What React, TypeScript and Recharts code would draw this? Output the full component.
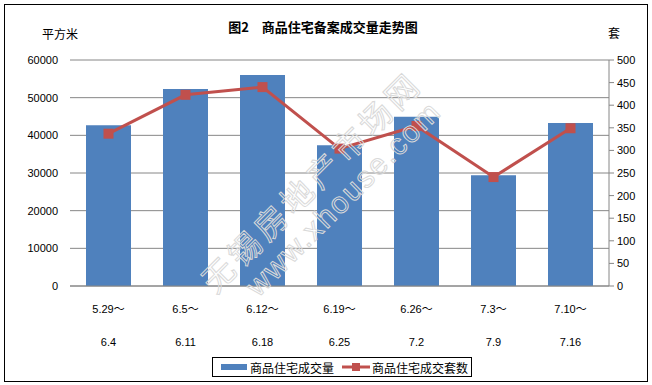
import {
  Bar,
  CartesianGrid,
  ComposedChart,
  Legend,
  Line,
  XAxis,
  YAxis,
} from "recharts";

const weekStart = ["5.29～", "6.5～", "6.12～", "6.19～", "6.26～", "7.3～", "7.10～"];
const weekEnd = ["6.4", "6.11", "6.18", "6.25", "7.2", "7.9", "7.16"];
const areaSold = [42700, 52300, 56000, 37400, 44950, 29400, 43300];
const unitsSold = [337, 423, 440, 304, 354, 241, 349];
const areaTicks = [0, 10000, 20000, 30000, 40000, 50000, 60000];
const unitTicks = [0, 50, 100, 150, 200, 250, 300, 350, 400, 450, 500];

const BLUE = "#4F81BD";
const RED = "#C0504D";
const GRID = "#868686";
const NUM_FONT = "'Liberation Sans', 'Noto Sans CJK SC', sans-serif";
const CJK_FONT = "'Noto Sans CJK SC', sans-serif";

const chartData = weekStart.map((start, i) => ({
  start,
  area: areaSold[i],
  units: unitsSold[i],
}));

function WeekTick({ x, y, payload }: any) {
  const i = weekStart.indexOf(payload.value);
  return (
    <g fontFamily={NUM_FONT} fontSize={11} fill="#000">
      <text x={x} y={y + 27} textAnchor="middle" fill="#000">
        {weekStart[i]}
      </text>
      <text x={x} y={y + 60} textAnchor="middle" fill="#000">
        {weekEnd[i]}
      </text>
    </g>
  );
}

function SquareDot({ cx, cy, index }: any) {
  return <rect key={index} x={cx - 5} y={cy - 5} width={10} height={10} fill={RED} />;
}

function LegendBox() {
  return (
    <div
      style={{
        boxSizing: "border-box",
        width: 260,
        height: 20,
        border: "1px solid #000",
        display: "flex",
        alignItems: "center",
        fontFamily: CJK_FONT,
        fontSize: 12,
        color: "#000",
        background: "#fff",
      }}
    >
      <span style={{ width: 26, height: 6, background: BLUE, marginLeft: 8, marginRight: 3 }} />
      <span>商品住宅成交量</span>
      <svg width={28} height={12} style={{ marginLeft: 8, marginRight: 2 }}>
        <line x1={0} y1={6} x2={28} y2={6} stroke={RED} strokeWidth={3} />
        <rect x={10} y={2} width={8} height={8} fill={RED} />
      </svg>
      <span>商品住宅成交套数</span>
    </div>
  );
}

export default function App() {
  return (
    <div style={{ position: "relative", width: 652, height: 385, background: "#fff" }}>
      <style>{"body{margin:0}"}</style>
      <div
        style={{
          position: "absolute",
          left: 4,
          top: 4,
          width: 644,
          height: 378,
          boxSizing: "border-box",
          border: "1px solid #000",
        }}
      />
      <ComposedChart
        width={652}
        height={385}
        data={chartData}
        margin={{ top: 60, right: 0, bottom: 8, left: 10 }}
      >
        <CartesianGrid yAxisId="left" vertical={false} stroke={GRID} />
        <XAxis
          dataKey="start"
          height={71}
          axisLine={{ stroke: GRID }}
          tickLine={false}
          tickSize={0}
          tickMargin={0}
          tick={<WeekTick />}
          interval={0}
        />
        <YAxis
          yAxisId="left"
          domain={[0, 60000]}
          ticks={areaTicks}
          width={60}
          axisLine={false}
          tickLine={false}
          tickSize={0}
          tickMargin={12}
          tick={{ fill: "#000", fontSize: 11, fontFamily: NUM_FONT }}
        />
        <YAxis
          yAxisId="right"
          orientation="right"
          domain={[0, 500]}
          ticks={unitTicks}
          width={43}
          axisLine={{ stroke: GRID }}
          tickLine={{ stroke: GRID }}
          tickSize={5}
          tickMargin={3}
          tick={{ fill: "#000", fontSize: 11, fontFamily: NUM_FONT, textAnchor: "start" }}
        />
        <Legend
          verticalAlign="bottom"
          content={<LegendBox />}
          wrapperStyle={{ left: 212, bottom: 8, width: 260, height: 20 }}
        />
        <Bar
          yAxisId="left"
          dataKey="area"
          name="商品住宅成交量"
          fill={BLUE}
          barSize={45}
          isAnimationActive={false}
        />
        <Line
          yAxisId="right"
          dataKey="units"
          name="商品住宅成交套数"
          stroke={RED}
          strokeWidth={3}
          dot={<SquareDot />}
          activeDot={false}
          isAnimationActive={false}
        />
      </ComposedChart>
      {/* faint site watermark */}
      <svg
        width={652}
        height={385}
        style={{ position: "absolute", left: 0, top: 0, pointerEvents: "none" }}
      >
        <text
          x={314}
          y={184}
          transform="rotate(-45 314 184)"
          textAnchor="middle"
          dominantBaseline="middle"
          fontFamily={CJK_FONT}
          fontSize={32}
          letterSpacing={5}
          fill="none"
          stroke="#d9d9d9"
          strokeWidth={1}
        >
          无锡房地产市场网
        </text>
        <text
          x={345}
          y={200}
          transform="rotate(-45 345 200)"
          textAnchor="middle"
          dominantBaseline="middle"
          fontFamily={NUM_FONT}
          fontSize={30}
          letterSpacing={2}
          fill="none"
          stroke="#d9d9d9"
          strokeWidth={1}
        >
          www.xhouse.com
        </text>
      </svg>
      <div
        style={{
          position: "absolute",
          left: 0,
          width: 646,
          top: 17,
          textAlign: "center",
          fontFamily: CJK_FONT,
          fontWeight: 700,
          fontSize: 13,
          lineHeight: "20px",
          color: "#000",
          whiteSpace: "pre",
        }}
      >
        {"图2　商品住宅备案成交量走势图"}
      </div>
      <div
        style={{
          position: "absolute",
          left: 42,
          top: 25,
          fontFamily: CJK_FONT,
          fontSize: 12,
          lineHeight: "18px",
          color: "#000",
        }}
      >
        平方米
      </div>
      <div
        style={{
          position: "absolute",
          left: 608,
          top: 24,
          fontFamily: CJK_FONT,
          fontSize: 12,
          lineHeight: "18px",
          color: "#000",
        }}
      >
        套
      </div>
    </div>
  );
}
